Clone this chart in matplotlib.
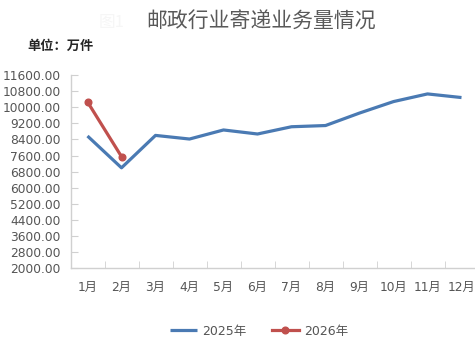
import numpy as np
import matplotlib
matplotlib.use('Agg')
import matplotlib.pyplot as plt
from matplotlib.ticker import FormatStrFormatter

plt.rcParams['font.family'] = ['DejaVu Sans', 'Noto Sans CJK SC']

months = ['1月', '2月', '3月', '4月', '5月', '6月', '7月', '8月', '9月', '10月', '11月', '12月']
y2025 = [8570, 6990, 8600, 8420, 8870, 8670, 9030, 9090, 9710, 10280, 10660, 10480]
y2026 = [10265, 7548]
yticks = np.arange(2000, 11601, 800)

W, H = 475, 352
fig = plt.figure(figsize=(W / 100, H / 100), dpi=100)
ax = fig.add_axes([70.5 / W, (H - 268.3) / H, 408 / W, 193.3 / H])

x = np.arange(len(months))
ax.plot(x, y2025, color='#4a7ab3', lw=2.3, label='2025年', solid_capstyle='butt')
ax.plot(x[:len(y2026)], y2026, color='#c0504d', lw=2.3, marker='o', ms=4.8, label='2026年')

ax.set_xlim(-0.5, 11.5)
ax.set_ylim(2000, 11600)
ax.set_yticks(yticks)
ax.yaxis.set_major_formatter(FormatStrFormatter('%.2f'))
ax.set_xticks(x)
ax.set_xticklabels(months)
ax.set_xticks(np.arange(-0.5, 12, 1), minor=True)
ax.tick_params(axis='x', which='major', length=0, pad=9, labelsize=8.8, labelcolor='#555555')
ax.tick_params(axis='x', which='minor', length=5, direction='in', color='#d0d0d0')
ax.tick_params(axis='y', length=5, direction='in', color='#d0d0d0', pad=7, labelsize=8.8, labelcolor='#555555')

for s in ['top', 'right']:
    ax.spines[s].set_visible(False)
for s in ['left', 'bottom']:
    ax.spines[s].set_color('#d0d0d0')
    ax.spines[s].set_linewidth(1)

fig.text(112 / W, 1 - 22 / H, '图1', fontsize=12, color='#f6f6f6', ha='center', va='center',
         family=['Noto Sans CJK SC'])
fig.text(261 / W, 1 - 22 / H, '邮政行业寄递业务量情况', fontsize=15, color='#595959',
         ha='center', va='center', family=['Noto Sans CJK SC'])
fig.text(27 / W, 1 - 46 / H, '单位：万件', fontsize=9.5, color='#262626', fontweight='bold',
         ha='left', va='center', family=['Noto Sans CJK SC'])

leg = fig.legend(loc='center', bbox_to_anchor=(259 / W, 1 - 331 / H), ncol=2, frameon=False,
                 fontsize=9, handlelength=2.2, columnspacing=2.0, handletextpad=0.4)
for t in leg.get_texts():
    t.set_color('#555555')

fig.savefig('out.png', dpi=100)
